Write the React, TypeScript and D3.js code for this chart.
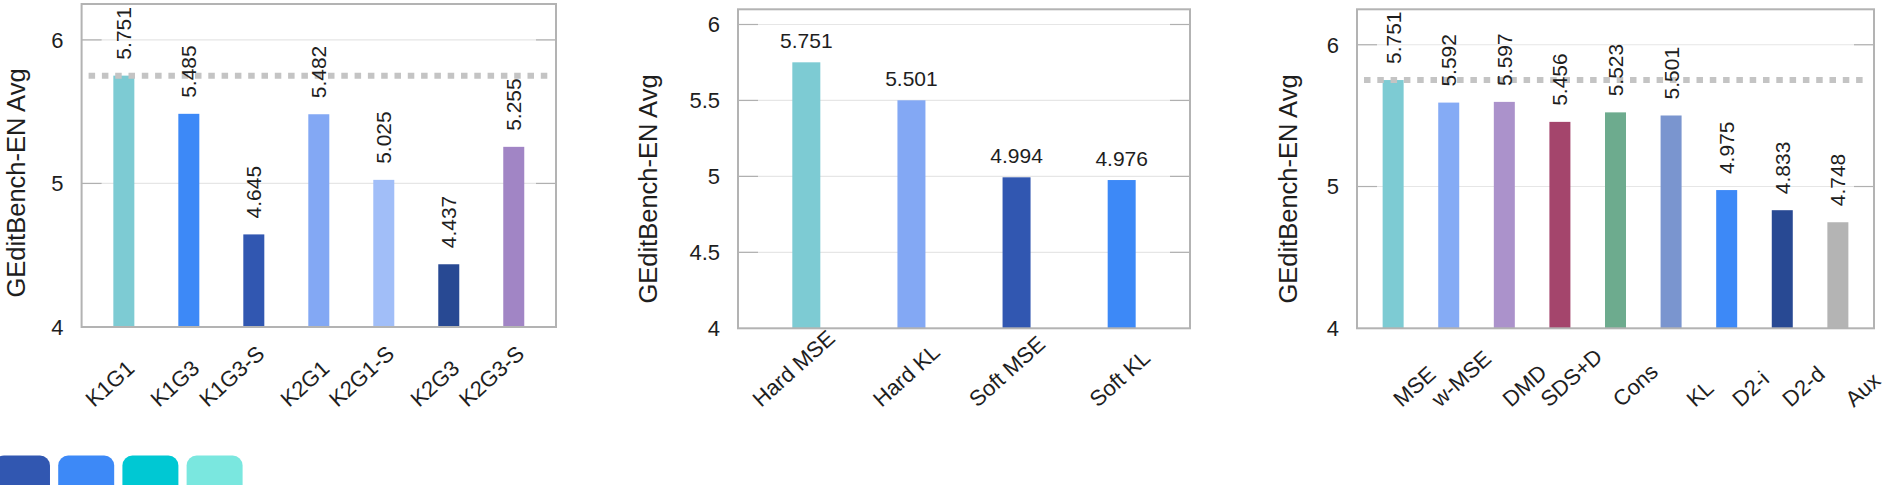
import * as d3 from "d3";
import { useEffect, useRef } from "react";

const WIDTH = 1901;
const HEIGHT = 485;

const Y_TITLE = "GEditBench-EN Avg";

// left panel: KxGy variants
const variantLabels = ["K1G1", "K1G3", "K1G3-S", "K2G1", "K2G1-S", "K2G3", "K2G3-S"];
const variantValues = [5.751, 5.485, 4.645, 5.482, 5.025, 4.437, 5.255];
const variantColors = ["#7dcbd3", "#3d89f7", "#3157b1", "#83a8f4", "#a1bef8", "#284993", "#a185c5"];

// middle panel: hard / soft targets
const targetLabels = ["Hard MSE", "Hard KL", "Soft MSE", "Soft KL"];
const targetValues = [5.751, 5.501, 4.994, 4.976];
const targetColors = ["#7dcbd3", "#83a8f4", "#3157b1", "#3d89f7"];

// right panel: objectives
const lossLabels = ["MSE", "w-MSE", "DMD", "SDS+D", "Cons", "KL", "D2-i", "D2-d", "Aux"];
const lossValues = [5.751, 5.592, 5.597, 5.456, 5.523, 5.501, 4.975, 4.833, 4.748];
const lossColors = ["#7dcbd3", "#85abf5", "#ab92cb", "#a4456c", "#6dab8e", "#7a95cf", "#3d89f7", "#284993", "#b4b4b4"];

const coarseTicks = [4, 5, 6];
const fineTicks = [4, 4.5, 5, 5.5, 6];
const referenceValue = 5.751;

const legendColors = ["#3157b1", "#3d89f7", "#00c8d3", "#7ae7df"];

const FONT = "'Liberation Sans', Arial, sans-serif";
const TEXT = "#1e1e1e";
const ANGLE = 42;

const panels = [
  {
    labels: variantLabels, values: variantValues, colors: variantColors, ticks: coarseTicks,
    left: 81.6, right: 556, top: 4, bottom: 327, yMax: 6.25, barWidth: 21,
    rotated: true, reference: true, labelDx: 12, titleX: 25, titleY: 183,
  },
  {
    labels: targetLabels, values: targetValues, colors: targetColors, ticks: fineTicks,
    left: 738, right: 1190, top: 9.3, bottom: 328.3, yMax: 6.1, barWidth: 28,
    rotated: false, reference: false, labelDx: 30, titleX: 657, titleY: 189,
  },
  {
    labels: lossLabels, values: lossValues, colors: lossColors, ticks: coarseTicks,
    left: 1357, right: 1874, top: 9.3, bottom: 328.3, yMax: 6.25, barWidth: 21,
    rotated: true, reference: true, labelDx: 44, titleX: 1297, titleY: 189,
  },
];

function drawPanel(root, p) {
  const g = root.append("g");
  const y = d3.scaleLinear().domain([4, p.yMax]).range([p.bottom, p.top]);
  const x = d3.scalePoint().domain(p.labels).range([p.left, p.right]).padding(0.65);
  const inner = p.ticks.filter((t) => t > 4);

  g.selectAll("line.grid")
    .data(inner)
    .join("line")
    .attr("x1", p.left)
    .attr("x2", p.right)
    .attr("y1", (d) => y(d))
    .attr("y2", (d) => y(d))
    .attr("stroke", "#e6e6e6")
    .attr("stroke-width", 1.2);

  // short darker ticks inside the frame on both sides
  [p.left, p.right - 20].forEach((x0) => {
    g.selectAll(null)
      .data(inner)
      .join("line")
      .attr("x1", x0)
      .attr("x2", x0 + 20)
      .attr("y1", (d) => y(d))
      .attr("y2", (d) => y(d))
      .attr("stroke", "#b0b0b0")
      .attr("stroke-width", 1.2);
  });

  g.selectAll("rect.bar")
    .data(p.values)
    .join("rect")
    .attr("x", (d, i) => x(p.labels[i]) - p.barWidth / 2)
    .attr("y", (d) => y(d))
    .attr("width", p.barWidth)
    .attr("height", (d) => y(4) - y(d))
    .attr("fill", (d, i) => p.colors[i]);

  if (p.reference) {
    g.append("line")
      .attr("x1", p.left + 7)
      .attr("x2", p.right - 7)
      .attr("y1", y(referenceValue))
      .attr("y2", y(referenceValue))
      .attr("stroke", "#c4c4c4")
      .attr("stroke-width", 6)
      .attr("stroke-dasharray", "6.5 6.8");
  }

  g.append("rect")
    .attr("x", p.left)
    .attr("y", p.top)
    .attr("width", p.right - p.left)
    .attr("height", p.bottom - p.top)
    .attr("fill", "none")
    .attr("stroke", "#b3b3b3")
    .attr("stroke-width", 2);

  g.selectAll("text.tick")
    .data(p.ticks)
    .join("text")
    .attr("x", p.left - 18)
    .attr("y", (d) => y(d))
    .attr("dy", "0.36em")
    .attr("text-anchor", "end")
    .attr("font-size", 22)
    .text((d) => d3.format("~g")(d));

  const fmt = d3.format(".3f");
  if (p.rotated) {
    g.selectAll("text.value")
      .data(p.values)
      .join("text")
      .attr("transform", (d, i) => `translate(${x(p.labels[i]) + 7.5},${y(d) - 16}) rotate(-90)`)
      .attr("font-size", 21)
      .text((d) => fmt(d));
  } else {
    g.selectAll("text.value")
      .data(p.values)
      .join("text")
      .attr("x", (d, i) => x(p.labels[i]))
      .attr("y", (d) => y(d) - 14)
      .attr("text-anchor", "middle")
      .attr("font-size", 21)
      .text((d) => fmt(d));
  }

  // category labels: bottoms aligned, ending near the bar
  const rad = (ANGLE * Math.PI) / 180;
  g.selectAll("text.cat")
    .data(p.labels)
    .join("text")
    .attr("font-size", 22)
    .text((d) => d)
    .each(function (d) {
      const len = this.getComputedTextLength();
      const x0 = x(d) + p.labelDx - len * Math.cos(rad);
      d3.select(this).attr("transform", `translate(${x0},408) rotate(${-ANGLE})`);
    });

  g.append("text")
    .attr("transform", `translate(${p.titleX},${p.titleY}) rotate(-90)`)
    .attr("text-anchor", "middle")
    .attr("font-size", 25.5)
    .text(Y_TITLE);
}

export default function App() {
  const ref = useRef(null);

  useEffect(() => {
    const svg = d3.select(ref.current);
    svg.selectAll("*").remove();
    const root = svg.append("g").attr("font-family", FONT).attr("fill", TEXT);

    panels.forEach((p) => drawPanel(root, p));

    const sx = d3.scaleBand().domain(d3.range(legendColors.length)).range([-6, 242.6]).paddingInner(0.128);
    root.selectAll("rect.swatch")
      .data(legendColors)
      .join("rect")
      .attr("x", (d, i) => sx(i))
      .attr("y", 455.5)
      .attr("width", sx.bandwidth())
      .attr("height", 56)
      .attr("rx", 10)
      .attr("fill", (d) => d);
  }, []);

  return (
    <svg
      ref={ref}
      width={WIDTH}
      height={HEIGHT}
      style={{ position: "absolute", left: 0, top: 0, background: "#fff" }}
    />
  );
}
